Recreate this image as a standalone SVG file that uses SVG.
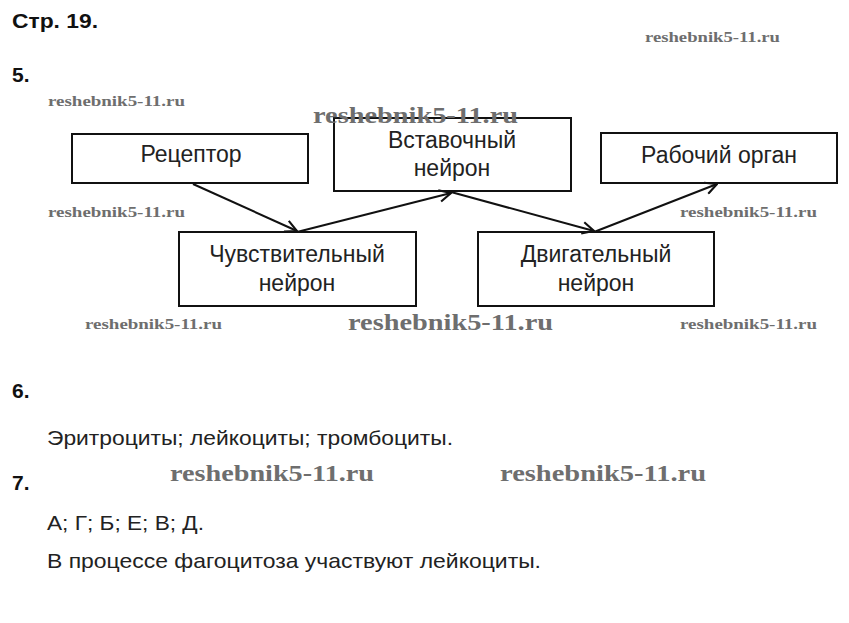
<svg xmlns="http://www.w3.org/2000/svg" width="849" height="623" viewBox="0 0 849 623">
<defs>
<style>
.h{font-family:"Liberation Sans",Arial,sans-serif;font-weight:bold;font-size:21px;fill:#111}
.t{font-family:"Liberation Sans",Arial,sans-serif;font-size:23px;fill:#222}
.b{font-family:"Liberation Sans",Arial,sans-serif;font-size:21px;fill:#222}
.box{fill:#fff;stroke:#111;stroke-width:2}
.wm{font-family:"Liberation Serif","DejaVu Serif",serif;font-weight:bold;fill:#6e6e6e}
.ws{font-size:15px}
.wl{font-size:24px}
.conn line{stroke:#111;stroke-width:2}
</style>
<marker id="ah" viewBox="0 0 12 12" refX="11" refY="6" markerWidth="14" markerHeight="14" markerUnits="userSpaceOnUse" orient="auto">
<path d="M1,1 L11,6 L1,11" fill="none" stroke="#111" stroke-width="1.8"/>
</marker>
</defs>
<rect width="849" height="623" fill="#fff"/>
<text class="h" x="12" y="28" textLength="86" lengthAdjust="spacingAndGlyphs">Стр. 19.</text>
<text class="h" x="12" y="82">5.</text>
<text class="h" x="12" y="398">6.</text>
<text class="h" x="12" y="490">7.</text>

<g id="n-receptor"><rect class="box" x="72" y="134" width="236" height="49"/><text class="t" x="191" y="162" text-anchor="middle">Рецептор</text></g>
<g id="n-inter"><rect class="box" x="334" y="118" width="237" height="73"/><text class="t" x="452" y="148" text-anchor="middle">Вставочный</text><text class="t" x="452" y="176" text-anchor="middle">нейрон</text></g>
<g id="n-organ"><rect class="box" x="601" y="133" width="236" height="50"/><text class="t" x="719" y="163" text-anchor="middle">Рабочий орган</text></g>
<g id="n-sensory"><rect class="box" x="179" y="232" width="237" height="74"/><text class="t" x="297" y="262" text-anchor="middle">Чувствительный</text><text class="t" x="297" y="291" text-anchor="middle">нейрон</text></g>
<g id="n-motor"><rect class="box" x="478" y="232" width="236" height="74"/><text class="t" x="596" y="262" text-anchor="middle">Двигательный</text><text class="t" x="596" y="291" text-anchor="middle">нейрон</text></g>

<g id="connectors" class="conn">
<line x1="193" y1="184" x2="297" y2="231" marker-end="url(#ah)"/>
<line x1="297" y1="232" x2="451" y2="193" marker-end="url(#ah)"/>
<line x1="451" y1="192" x2="594" y2="231" marker-end="url(#ah)"/>
<line x1="594" y1="232" x2="717" y2="184" marker-end="url(#ah)"/>
</g>

<text class="b" x="47" y="445" textLength="406" lengthAdjust="spacingAndGlyphs">Эритроциты; лейкоциты; тромбоциты.</text>
<text class="b" x="47" y="530" textLength="157" lengthAdjust="spacingAndGlyphs">А; Г; Б; Е; В; Д.</text>
<text class="b" x="47" y="568" textLength="494" lengthAdjust="spacingAndGlyphs">В процессе фагоцитоза участвуют лейкоциты.</text>

<g id="watermarks">
<text class="wm ws" x="645" y="42" textLength="135" lengthAdjust="spacingAndGlyphs">reshebnik5-11.ru</text>
<text class="wm ws" x="48" y="106" textLength="137" lengthAdjust="spacingAndGlyphs">reshebnik5-11.ru</text>
<text class="wm ws" x="48" y="217" textLength="137" lengthAdjust="spacingAndGlyphs">reshebnik5-11.ru</text>
<text class="wm ws" x="85" y="329" textLength="137" lengthAdjust="spacingAndGlyphs">reshebnik5-11.ru</text>
<text class="wm ws" x="680" y="217" textLength="137" lengthAdjust="spacingAndGlyphs">reshebnik5-11.ru</text>
<text class="wm ws" x="680" y="329" textLength="137" lengthAdjust="spacingAndGlyphs">reshebnik5-11.ru</text>
<text class="wm wl" x="313" y="123" textLength="205" lengthAdjust="spacingAndGlyphs">reshebnik5-11.ru</text>
<text class="wm wl" x="348" y="330" textLength="205" lengthAdjust="spacingAndGlyphs">reshebnik5-11.ru</text>
<text class="wm wl" x="170" y="481" textLength="204" lengthAdjust="spacingAndGlyphs">reshebnik5-11.ru</text>
<text class="wm wl" x="500" y="481" textLength="206" lengthAdjust="spacingAndGlyphs">reshebnik5-11.ru</text>
</g>
</svg>
